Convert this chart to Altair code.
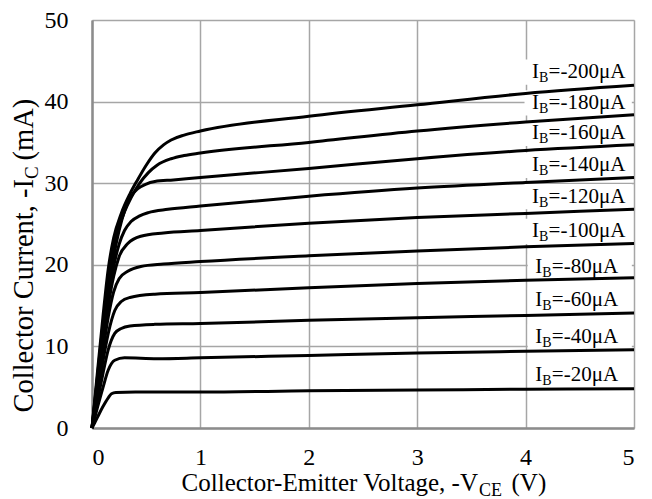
import altair as alt
import pandas as pd

# ---- curve data (V_CE in volts, I_C in mA) ----
V_20 = [0, 0.05, 0.10, 0.15, 0.18, 0.22, 0.40, 1, 2, 3, 4, 5]
I_20 = [0, 1.3, 2.6, 3.7, 4.2, 4.35, 4.4, 4.4, 4.55, 4.65, 4.75, 4.8]

V_40 = [0, 0.05, 0.10, 0.15, 0.21, 0.30, 0.60, 1, 2, 3, 4, 5]
I_40 = [0, 2.5, 4.9, 7.1, 8.3, 8.6, 8.5, 8.6, 8.9, 9.2, 9.4, 9.6]

V_60 = [0, 0.05, 0.10, 0.15, 0.21, 0.27, 0.35, 0.58, 1, 2, 3, 4, 5]
I_60 = [0, 3.3, 6.6, 9.6, 11.6, 12.2, 12.5, 12.7, 12.8, 13.2, 13.5, 13.8, 14.1]

V_80 = [0, 0.05, 0.10, 0.15, 0.21, 0.27, 0.35, 0.58, 1, 2, 3, 4, 5]
I_80 = [0, 4.0, 8.1, 11.6, 14.4, 15.5, 16.0, 16.4, 16.6, 17.2, 17.7, 18.1, 18.4]

V_100 = [0, 0.05, 0.10, 0.15, 0.20, 0.25, 0.33, 0.45, 0.66, 1, 2, 3, 4, 5]
I_100 = [0, 4.6, 9.3, 13.6, 16.7, 18.3, 19.2, 19.8, 20.1, 20.4, 21.1, 21.7, 22.2, 22.6]

V_120 = [0, 0.05, 0.10, 0.15, 0.20, 0.25, 0.33, 0.45, 0.66, 1, 2, 3, 4, 5]
I_120 = [0, 5.0, 10.2, 15.0, 18.6, 21.0, 22.6, 23.5, 23.9, 24.2, 25.1, 25.8, 26.3, 26.8]

V_140 = [0, 0.05, 0.10, 0.15, 0.20, 0.25, 0.30, 0.36, 0.44, 0.52, 0.70, 1, 2, 3, 4, 5]
I_140 = [0, 5.6, 11.2, 16.0, 19.8, 22.5, 24.2, 25.3, 26.0, 26.4, 26.8, 27.2, 28.4, 29.4, 30.1, 30.7]

V_160 = [0, 0.05, 0.10, 0.15, 0.20, 0.25, 0.30, 0.36, 0.42, 0.50, 0.58, 0.75, 1, 2, 3, 4, 5]
I_160 = [0, 6.0, 12.0, 17.0, 21.0, 24.2, 26.6, 28.4, 29.3, 29.9, 30.2, 30.4, 30.7, 31.8, 33.0, 34.0, 34.7]

V_180 = [0, 0.05, 0.10, 0.15, 0.20, 0.24, 0.30, 0.36, 0.44, 0.52, 0.60, 0.73, 0.85, 1, 2, 3, 4, 5]
I_180 = [0, 6.3, 12.6, 18.0, 22.2, 24.3, 26.5, 28.2, 30.0, 31.3, 32.2, 33.0, 33.4, 33.7, 35.0, 36.4, 37.5, 38.4]

V_200 = [0, 0.05, 0.10, 0.15, 0.20, 0.27, 0.35, 0.42, 0.50, 0.58, 0.66, 0.73, 0.85, 1, 2, 3, 4, 5]
I_200 = [0, 6.8, 13.5, 19.5, 23.3, 26.3, 28.7, 30.4, 32.2, 33.7, 34.7, 35.3, 35.9, 36.4, 38.2, 39.6, 41.0, 42.0]

SERIES = ["-20", "-40", "-60", "-80", "-100", "-120", "-140", "-160", "-180", "-200"]
CURVES_V = [V_20, V_40, V_60, V_80, V_100, V_120, V_140, V_160, V_180, V_200]
CURVES_I = [I_20, I_40, I_60, I_80, I_100, I_120, I_140, I_160, I_180, I_200]

# ---- curve labels ----
LABEL_IB = ["-200", "-180", "-160", "-140", "-120", "-100", "-80", "-60", "-40", "-20"]
LABEL_X = [4.06, 4.06, 4.06, 4.06, 4.06, 4.06, 4.09, 4.09, 4.09, 4.09]
LABEL_Y = [43.6, 39.85, 36.1, 32.2, 28.35, 24.1, 19.75, 15.65, 11.15, 6.45]

X_TICKS = [0, 1, 2, 3, 4, 5]
Y_TICKS = [0, 10, 20, 30, 40, 50]

XTITLE_MAIN, XTITLE_SUB, XTITLE_END = "Collector-Emitter Voltage, -V", "CE", "(V)"
YTITLE_MAIN, YTITLE_SUB, YTITLE_END = "Collector Current, -I", "C", "(mA)"

FONT = "Liberation Serif, Times New Roman, DejaVu Serif, serif"
GRID = "#a6a6a6"
FRAME = "#8c8c8c"

rows = []
for s, vs, cs in zip(SERIES, CURVES_V, CURVES_I):
    for k, (v, c) in enumerate(zip(vs, cs)):
        rows.append({"series": s, "V": v, "I": c, "ord": k})
curves = pd.DataFrame(rows)

labels = pd.DataFrame({"ib": LABEL_IB, "lx": LABEL_X, "ly": LABEL_Y})
labels["rest"] = "=" + labels["ib"] + "\u03bcA"

xscale = alt.Scale(domain=[0, 5], nice=False, zero=False)
yscale = alt.Scale(domain=[0, 50], nice=False)

xaxis = alt.Axis(values=X_TICKS, grid=True, ticks=False, labelPadding=17,
                 labelFont=FONT, labelFontSize=24, labelColor="black",
                 gridColor=GRID, gridWidth=1.5, domainColor=FRAME, domainWidth=2.5,
                 title=None, format="d")
yaxis = alt.Axis(values=Y_TICKS, grid=True, ticks=False, labelPadding=24,
                 labelFont=FONT, labelFontSize=24, labelColor="black",
                 gridColor=GRID, gridWidth=1.5, domainColor=FRAME, domainWidth=2.5,
                 title=None, format="d")

lines = alt.Chart(curves).mark_line(color="black", strokeWidth=3, interpolate="monotone").encode(
    x=alt.X("V:Q", scale=xscale, axis=xaxis),
    y=alt.Y("I:Q", scale=yscale, axis=yaxis),
    detail="series:N",
    order="ord:Q",
)

boxes = alt.Chart(labels).transform_calculate(
    bx1="datum.lx - 0.07", bx2="4.98", by1="datum.ly - 1.55", by2="datum.ly + 1.55"
).mark_rect(fill="white").encode(
    x=alt.X("bx1:Q", scale=xscale), x2="bx2:Q",
    y=alt.Y("by1:Q", scale=yscale), y2="by2:Q",
)

base_lbl = alt.Chart(labels)
t_i = base_lbl.mark_text(text="I", align="left", baseline="middle", font=FONT,
                         fontSize=21, color="black").encode(
    x=alt.X("lx:Q", scale=xscale), y=alt.Y("ly:Q", scale=yscale))
t_b = base_lbl.mark_text(text="B", align="left", baseline="middle", font=FONT,
                         fontSize=14, color="black", dx=7, dy=6).encode(
    x=alt.X("lx:Q", scale=xscale), y=alt.Y("ly:Q", scale=yscale))
t_r = base_lbl.mark_text(align="left", baseline="middle", font=FONT,
                         fontSize=21, color="black", dx=16.5).encode(
    x=alt.X("lx:Q", scale=xscale), y=alt.Y("ly:Q", scale=yscale), text="rest:N")


def title_part(txt, x, y, size, align, angle=0, dy=0):
    return alt.Chart(pd.DataFrame({"t": [txt]})).mark_text(
        align=align, baseline="alphabetic", font=FONT, fontSize=size,
        color="black", angle=angle, dy=dy
    ).encode(text="t:N", x=alt.value(x), y=alt.value(y))


xt1 = title_part(XTITLE_MAIN, 386, 471, 25, "right")
xt2 = title_part(XTITLE_SUB, 387, 471, 18, "left", dy=5)
xt3 = title_part(XTITLE_END, 419.5, 471, 25, "left")

yt1 = title_part(YTITLE_MAIN, -59, 159, 28.5, "right", angle=270)
yt2 = title_part(YTITLE_SUB, -59, 159, 19, "left", angle=270, dy=5)
yt3 = title_part(YTITLE_END, -59, 140.5, 28.5, "left", angle=270)

chart = alt.layer(boxes, lines, t_i, t_b, t_r, xt1, xt2, xt3, yt1, yt2, yt3).properties(
    width=542, height=408,
    padding={"left": 84, "top": 12, "right": 10, "bottom": 71},
    autosize="none",
).configure_view(stroke=FRAME, strokeWidth=2.5).configure(background="white")

chart.save("out.html", embed_options={"renderer": "svg", "actions": False})
